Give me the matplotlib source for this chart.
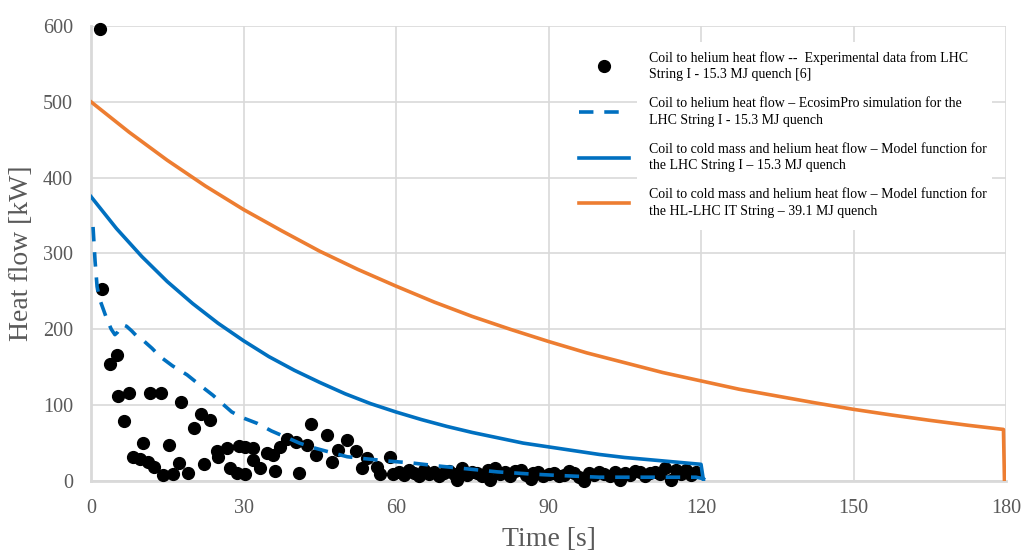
import matplotlib
matplotlib.use('Agg')
from matplotlib import pyplot as plt
from matplotlib.patches import Rectangle

# ------------------------------------------------------------
# DATA
# ------------------------------------------------------------
# Experimental data, LHC String I - 15.3 MJ quench
exp_t = [1.8, 2.1, 3.7, 5.1, 5.4, 6.5, 7.5, 8.3, 9.6, 10.3, 11.3, 11.7, 12.3, 13.8,
         14.2, 15.4, 16.2, 17.3, 17.8, 19.0, 20.3, 21.6, 22.3, 23.4, 24.7, 25.0,
         26.7, 27.3, 28.7, 29.1, 30.3, 30.3, 31.9, 31.9, 33.2, 34.6, 35.9, 36.2,
         37.2, 38.5, 40.3, 41.0, 42.4, 43.2, 44.3, 46.5, 47.4, 48.5, 50.3, 52.1,
         53.3, 54.2, 56.2, 56.9, 58.8, 59.5,
         60.5, 61.5, 62.5, 63.5, 64.5, 65.5, 66.5, 67.5, 68.5, 69.5, 70.5, 71.5,
         72.0, 73.0, 74.0, 75.0, 76.0, 77.0, 78.0, 78.5, 79.5, 80.5, 81.5, 82.5,
         83.5, 84.5, 85.5, 86.5, 87.0, 88.0, 89.0, 90.0, 91.0, 92.0, 93.0, 94.0,
         95.0, 96.0, 97.0, 98.0, 99.0, 100.0, 101.0, 102.0, 103.0, 104.0, 105.0,
         106.0, 107.0, 108.0, 109.0, 110.0, 111.0, 112.0, 113.0, 114.0, 115.0,
         116.0, 117.0, 118.0, 119.0]
exp_q = [596, 253, 154, 166, 112, 79, 116, 32, 29, 50, 25, 116, 19, 116,
         8, 47, 9, 24, 104, 10, 70, 88, 22, 80, 40, 32,
         43, 17, 10, 46, 45, 9, 43, 28, 17, 37, 34, 13,
         45, 55, 51, 11, 47, 75, 34, 61, 25, 41, 54, 40,
         17, 30, 18, 9, 32, 9,
         12, 8, 14, 10, 6, 15, 9, 12, 7, 11, 13, 9,
         1, 17, 8, 12, 10, 6, 14, 1, 17, 9, 12, 7,
         13, 15, 8, 2, 10, 12, 6, 9, 11, 7, 8, 13,
         10, 5, 0, 10, 8, 12, 9, 6, 12, 1, 11,
         8, 13, 12, 7, 10, 12, 9, 17, 1, 15,
         9, 14, 8, 12]

# EcosimPro simulation, LHC String I - 15.3 MJ quench
eco_t = [0.4, 0.8, 1.2, 1.8, 2.5, 3.2, 4.0, 4.7, 5.2, 5.7, 6.3, 7.0, 8.0, 9.0,
         10.5, 12.0, 13.6, 16.0, 18.9, 21.5, 24.0, 26.0, 27.7, 30.0, 32.7, 35.5,
         38.6, 41.0, 43.7, 47.0, 50.4, 53.0, 56.0, 59.0, 62.8, 68.0, 74.0, 80.0,
         87.0, 93.0, 100.0, 110.0, 119.0, 120.5, 121.0]
eco_q = [335, 290, 256, 238, 225, 212, 200, 193, 196, 201, 206, 204, 198, 191,
         184, 175, 164, 152, 140, 126, 113, 101, 91, 83, 76, 66,
         57, 50, 44, 38, 32, 30, 28, 26, 24, 20, 16, 12,
         9, 7, 5, 5, 5, 3, 0]

# Model function, LHC String I - 15.3 MJ quench
lhc_t = [0, 5, 10, 15, 20, 25, 30, 35, 40, 45, 50, 55, 60, 65, 70, 75, 80, 85,
         90, 95, 100, 105, 110, 115, 120, 120.5]
lhc_q = [375, 333, 296, 263, 234, 208, 185, 164, 146, 130, 115, 102, 91, 81,
         72, 64, 57, 50, 45, 40, 35, 31, 28, 25, 22, 0]

# Model function, HL-LHC IT String - 39.1 MJ quench
hl_t = [0, 7.5, 15, 22.5, 30, 37.5, 45, 52.5, 60, 67.5, 75, 82.5, 90, 97.5, 105,
        112.5, 120, 127.5, 135, 142.5, 150, 157.5, 165, 172.5, 179.5, 179.7]
hl_q = [500, 460, 423, 389, 358, 330, 303, 279, 257, 236, 217, 200, 184, 169,
        156, 143, 132, 121, 112, 103, 94.5, 87, 80, 73.5, 68, 0]

labels = ['Coil to helium heat flow --  Experimental data from LHC\nString I - 15.3 MJ quench [6]',
          'Coil to helium heat flow \u2013 EcosimPro simulation for the\nLHC String I - 15.3 MJ quench',
          'Coil to cold mass and helium heat flow \u2013 Model function for\nthe LHC String I \u2013 15.3 MJ quench',
          'Coil to cold mass and helium heat flow \u2013 Model function for\nthe HL-LHC IT String \u2013 39.1 MJ quench']

# ------------------------------------------------------------
# PLOT
# ------------------------------------------------------------
plt.rcParams['font.family'] = ['Liberation Serif', 'DejaVu Serif']
blue = '#0070C0'
orange = '#ED7D31'
grey = '#595959'
gridc = '#D9D9D9'

W, H = 1021, 551
fig = plt.figure(figsize=(W / 100, H / 100), dpi=100)
ax = fig.add_axes([91 / W, 1 - 481 / H, 915 / W, 455 / H])

ax.plot(exp_t, exp_q, 'o', color='black', ms=8.5, clip_on=False, zorder=3, label=labels[0])
ax.plot(eco_t, eco_q, '--', color=blue, lw=2.6, dashes=(4, 3), label=labels[1], zorder=4)
ax.plot(lhc_t, lhc_q, '-', color=blue, lw=2.6, label=labels[2], zorder=4)
ax.plot(hl_t, hl_q, '-', color=orange, lw=2.6, label=labels[3], zorder=4)

ax.set_xlim(0, 180)
ax.set_ylim(0, 600)
ax.set_xticks(range(0, 181, 30))
ax.set_yticks(range(0, 601, 100))
ax.grid(True, color=gridc, lw=1.2)
ax.set_axisbelow(True)
for s in ['top', 'right']:
    ax.spines[s].set_visible(False)
for s in ['left', 'bottom']:
    ax.spines[s].set_color(gridc)
    ax.spines[s].set_linewidth(2)
ax.tick_params(axis='y', length=0, labelsize=14.5, labelcolor=grey, pad=13)
ax.tick_params(axis='x', length=0, labelsize=14.5, labelcolor=grey, pad=13)

ax.set_xlabel('Time [s]', fontsize=20, color=grey)
ax.xaxis.set_label_coords(0.5, -0.102)
ax.set_ylabel('Heat flow [kW]', fontsize=20, color=grey)
ax.yaxis.set_label_coords(-0.062, 0.5)

# white box behind the legend text hides the grid (as in the original)
ax.add_patch(Rectangle((637 / W, 1 - 230 / H), 355 / W, 188 / H, transform=fig.transFigure,
                       facecolor='white', edgecolor='none', zorder=1))

leg = ax.legend(loc='upper left', bbox_to_anchor=(572 / W, 1 - 44 / H),
                bbox_transform=fig.transFigure, fontsize=10, frameon=False,
                labelspacing=1.15, handlelength=3.6, handletextpad=1.45, borderpad=0)
for t in leg.get_texts():
    t.set_linespacing(1.35)

plt.savefig('out.png', dpi=100)
